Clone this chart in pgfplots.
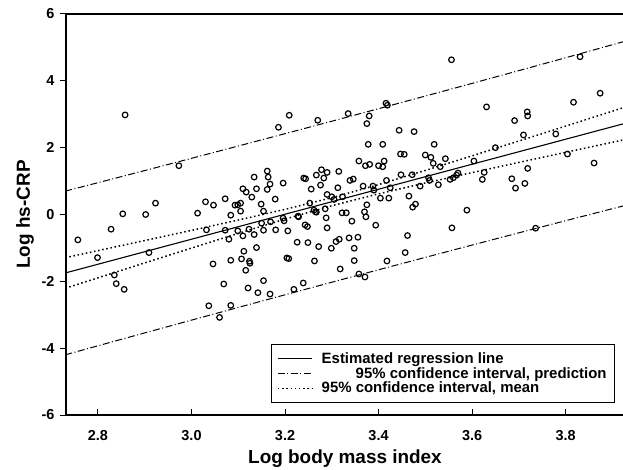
\documentclass[border=0pt]{standalone}
\usepackage{pgfplots}
\pgfplotsset{compat=1.18}
\usepackage{fontspec}
\setmainfont{Liberation Sans}
\pgfplotstableread{
x y
2.757 -0.76
2.858 2.98
2.799 -1.29
2.828 -0.44
2.835 -1.81
2.839 -2.07
2.856 -2.24
2.853 0.02
2.902 0.00
2.923 0.34
2.909 -1.14
2.973 1.46
3.209 2.97
3.186 2.61
3.270 2.82
3.162 1.30
3.164 1.12
3.134 1.12
3.168 0.91
3.162 0.75
3.139 0.77
3.110 0.77
3.117 0.67
3.129 0.52
3.196 0.94
3.179 0.46
3.240 1.09
3.267 1.18
3.278 1.34
3.290 1.26
3.283 1.09
3.276 0.88
3.256 0.76
3.290 0.60
3.030 0.38
3.047 0.28
3.072 0.47
3.013 0.04
3.093 0.28
3.105 0.34
3.105 0.10
3.084 -0.02
3.149 0.31
3.154 0.10
3.253 0.34
3.262 0.13
3.267 0.07
3.286 0.17
3.228 -0.05
3.196 -0.11
3.099 0.29
3.244 1.07
3.032 -0.46
3.072 -0.47
3.080 -0.74
3.099 -0.49
3.110 -0.64
3.123 -0.44
3.134 -0.60
3.150 -0.26
3.154 -0.47
3.169 -0.22
3.180 -0.46
3.198 -0.19
3.206 -0.49
3.229 -0.07
3.243 -0.31
3.248 -0.36
3.265 0.08
3.288 -0.10
3.290 -0.40
3.226 -0.83
3.249 -0.84
3.272 -0.96
3.139 -0.99
3.112 -1.10
3.084 -1.37
3.107 -1.33
3.124 -1.40
3.125 -1.46
3.116 -1.67
3.046 -1.48
3.204 -1.30
3.208 -1.32
3.263 -1.39
3.069 -2.08
3.121 -2.20
3.154 -1.98
3.142 -2.34
3.168 -2.38
3.219 -2.24
3.239 -2.05
3.037 -2.73
3.084 -2.72
3.060 -3.08
3.416 3.33
3.419 3.27
3.631 3.22
3.335 3.02
3.380 2.95
3.375 2.72
3.444 2.52
3.476 2.48
3.378 2.10
3.409 2.10
3.519 2.10
3.447 1.81
3.455 1.80
3.500 1.78
3.512 1.71
3.543 1.67
3.517 1.53
3.532 1.43
3.604 1.60
3.358 1.60
3.372 1.46
3.381 1.50
3.400 1.46
3.409 1.43
3.412 1.60
3.315 1.29
3.448 1.19
3.472 1.19
3.507 1.10
3.509 1.02
3.570 1.24
3.567 1.18
3.553 1.05
3.560 1.10
3.626 1.26
3.622 1.05
3.528 0.89
3.489 0.85
3.417 1.02
3.425 0.80
3.339 1.02
3.346 1.06
3.313 0.80
3.367 0.85
3.388 0.85
3.390 0.73
3.300 0.53
3.323 0.53
3.404 0.49
3.422 0.49
3.465 0.55
3.375 0.29
3.473 0.22
3.479 0.31
3.589 0.13
3.305 0.45
3.322 0.05
3.331 0.05
3.343 -0.20
3.370 0.08
3.373 -0.07
3.394 -0.32
3.557 -0.40
3.462 -0.63
3.457 -1.14
3.418 -1.39
3.337 -0.70
3.356 -0.68
3.316 -0.74
3.309 -0.81
3.299 -1.01
3.348 -1.01
3.348 -1.38
3.318 -1.63
3.358 -1.78
3.371 -1.87
3.736 -0.41
3.556 4.63
3.831 4.72
3.817 3.36
3.874 3.63
3.691 2.81
3.718 3.07
3.719 2.95
3.710 2.38
3.779 2.41
3.650 2.00
3.804 1.81
3.861 1.54
3.719 1.38
3.685 1.07
3.693 0.79
3.713 0.93
}\pts
\pgfplotstableread{
x fit mlo mhi plo phi
2.73 -1.750 -2.208 -1.292 -4.199 0.699
2.80 -1.488 -1.895 -1.081 -3.928 0.952
2.90 -1.114 -1.448 -0.780 -3.543 1.315
3.00 -0.740 -1.005 -0.475 -3.161 1.681
3.10 -0.366 -0.566 -0.166 -2.781 2.049
3.20 0.008 -0.138 0.154 -2.403 2.419
3.30 0.382 0.262 0.502 -2.027 2.791
3.40 0.756 0.618 0.894 -1.654 3.166
3.50 1.130 0.942 1.318 -1.284 3.544
3.60 1.504 1.253 1.755 -0.915 3.923
3.70 1.878 1.558 2.198 -0.549 4.305
3.80 2.252 1.860 2.644 -0.186 4.690
3.93 2.738 2.250 3.226 0.280 5.196
}\bands
\begin{document}
\begin{tikzpicture}
\begin{axis}[
  scale only axis, width=558bp, height=401bp,
  xmin=2.7316, xmax=3.925, ymin=-6, ymax=6,
  xtick={2.8,3.0,3.2,3.4,3.6,3.8}, ytick={-6,-4,-2,0,2,4,6},
  xtick pos=bottom, ytick pos=left,
  xtick align=inside, ytick align=outside,
  major tick length=6bp,
  axis line style={line width=1.1bp},
  tick style={line width=1bp, black},
  /pgf/number format/assume math mode=true,
  xticklabel style={font=\bfseries\fontsize{14.5}{16}\selectfont, yshift=-12bp,
    /pgf/number format/.cd, fixed, fixed zerofill, precision=1},
  yticklabel style={font=\bfseries\fontsize{14.5}{16}\selectfont, xshift=-2bp},
  xlabel={Log body mass index}, ylabel={Log hs-CRP},
  label style={font=\bfseries\fontsize{19}{22}\selectfont},
  xlabel style={yshift=-2bp},
  ylabel style={yshift=1bp},
  legend style={at={(0.984,0.03)}, anchor=south east, draw=black, line width=1.1bp,
    font=\bfseries\fontsize{15}{17}\selectfont, row sep=-1.5bp,
    inner xsep=6bp, inner ysep=6bp},
  legend cell align=left,
  legend image code/.code={\draw[#1] (0bp,0bp) -- (34bp,0bp);},
]
\addplot[only marks, mark=o, mark size=2.8bp, mark options={line width=1.2bp, black}, forget plot] table[x=x,y=y] {\pts};
\addplot[black, line width=1.1bp] table[x=x,y=fit] {\bands};
\addlegendentry{\hspace{7bp}Estimated regression line}
\addplot[black, line width=1bp, dash pattern=on 7bp off 2.5bp on 1bp off 2.5bp] table[x=x,y=phi] {\bands};
\addlegendentry{\hspace{41bp}95\% confidence interval, prediction}
\addplot[black, line width=1bp, dash pattern=on 7bp off 2.5bp on 1bp off 2.5bp, forget plot] table[x=x,y=plo] {\bands};
\addplot[black, line width=1.5bp, dash pattern=on 1.5bp off 2.7bp] table[x=x,y=mhi] {\bands};
\addlegendentry{\hspace{7bp}95\% confidence interval, mean}
\addplot[black, line width=1.5bp, dash pattern=on 1.5bp off 2.7bp, forget plot] table[x=x,y=mlo] {\bands};
\end{axis}
\pgfresetboundingbox
\path ([shift={(-66bp,-55bp)}]current axis.south west) rectangle ([shift={(-1bp,14bp)}]current axis.north east);
\end{tikzpicture}
\end{document}
